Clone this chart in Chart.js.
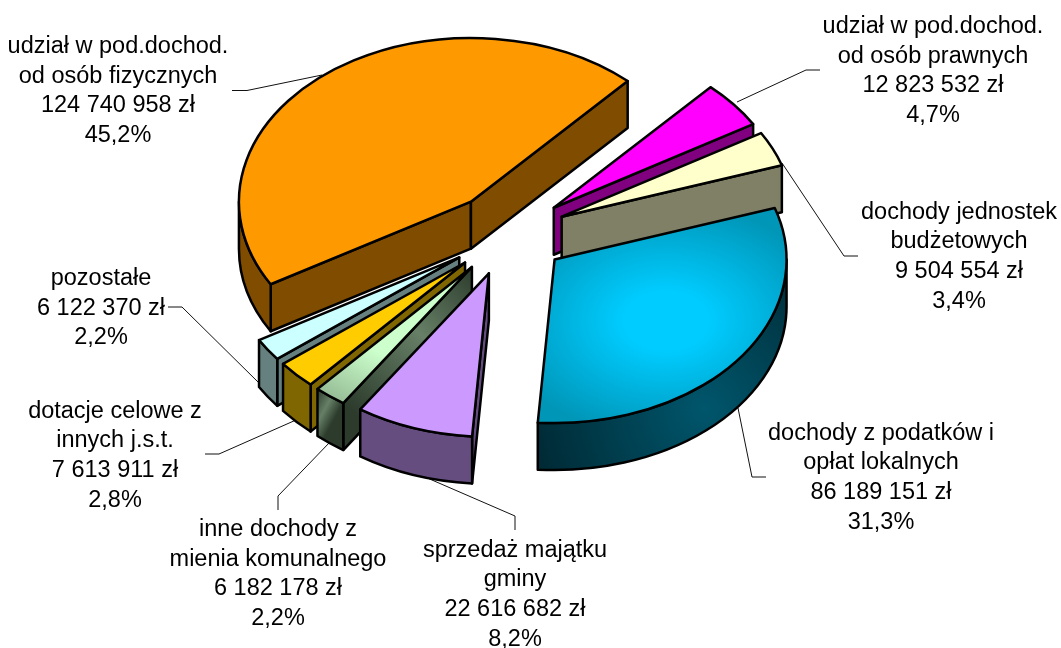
<!DOCTYPE html>
<html><head><meta charset="utf-8">
<style>html,body{margin:0;padding:0;background:#fff}canvas{display:block}</style>
<script src="https://cdn.jsdelivr.net/npm/chart.js@4"></script>
</head><body>
<canvas id="c" width="1061" height="648"></canvas>
<script>
const categories = [
  ['udział w pod.dochod.','od osób prawnych'],
  ['dochody jednostek','budżetowych'],
  ['dochody z podatków i','opłat lokalnych'],
  ['sprzedaż majątku','gminy'],
  ['inne dochody z','mienia komunalnego'],
  ['dotacje celowe z','innych j.s.t.'],
  ['pozostałe'],
  ['udział w pod.dochod.','od osób fizycznych']
];
const values = [12823532, 9504554, 86189151, 22616682, 6182178, 7613911, 6122370, 124740958];
const percents = ['4,7%','3,4%','31,3%','8,2%','2,2%','2,8%','2,2%','45,2%'];
const topColors = ['#FF00FF','#FFFFCC','#00CCFF','#CC99FF','#CCFFCC','#FFCC00','#CCFFFF','#FF9900'];
const sideColors = ['#800080','#808066','#00566C','#664D80','#667F66','#806600','#668080','#804D00'];
// label layout: centre x, first baseline y
const labelPos = [[933,33],[959,218.5],[881,439.5],[515,556.5],[278,536],[115,417.5],[101,285],[118,53]];
const leaders = [
  [[737,102],[806,70],[820,70]],
  [[782,163],[844,256],[858,256]],
  [[738,408],[752,477],[766,477]],
  [[425,477],[515,516],[515,530]],
  [[330,442],[278,496],[278,510]],
  [[296,420],[219,454],[205,454]],
  [[259,383],[182,307],[168,307]],
  [[322,75],[247,90.5],[232,90.5]]
];
const ROTATION = 42.5, R = 232, EXPLODE = 59, SQUASH = 0.705, DEPTH = 47;
const fmt = v => String(v).replace(/\B(?=(\d{3})+$)/g,' ') + ' zł';

function topFill(c){
  const i = c.dataIndex, area = c.chart.chartArea;
  if (i === undefined || !area || (i !== 2 && i !== 4)) return topColors[i] || '#000';
  const total = values.reduce((s,v)=>s+v,0);
  let acc = 0; for (let k=0;k<i;k++) acc += values[k];
  const mid = (ROTATION-90)*Math.PI/180 + (acc+values[i]/2)/total*2*Math.PI;
  const cx=(area.left+area.right)/2, cy=(area.top+area.bottom)/2;
  const d = EXPLODE + R*(i===2?0.61:0.42);
  const gx=cx+Math.cos(mid)*d, gy=cy+Math.sin(mid)*d;
  const g=c.chart.ctx.createRadialGradient(gx,gy,0,gx,gy,R*(i===2?0.72:0.6));
  g.addColorStop(0,topColors[i]);
  g.addColorStop(i===2?0.25:0.4,topColors[i]);
  g.addColorStop(1,i===2?'#0096B8':'#94BA94');
  return g;
}

const pie3d = {
  id:'pie3d',
  afterDatasetsUpdate(chart){
    const area=chart.chartArea, cx=(area.left+area.right)/2, cy=(area.top+area.bottom)/2;
    chart.getDatasetMeta(0).data.forEach(a=>{
      const mid=(a.startAngle+a.endAngle)/2;
      a.x=cx+Math.cos(mid)*EXPLODE; a.y=cy+Math.sin(mid)*EXPLODE;
    });
  },
  beforeDatasetsDraw(chart){
    const ctx=chart.ctx, area=chart.chartArea, cy=(area.top+area.bottom)/2;
    const sy=y=>cy+(y-cy)*SQUASH;
    const arcs=chart.getDatasetMeta(0).data;
    const P=(a,t)=>[a.x+a.outerRadius*Math.cos(t), sy(a.y+a.outerRadius*Math.sin(t))];
    // leader lines
    ctx.save(); ctx.strokeStyle='#111'; ctx.lineWidth=1;
    leaders.forEach(l=>{ctx.beginPath();l.forEach((p,k)=>k?ctx.lineTo(p[0],p[1]):ctx.moveTo(p[0],p[1]));ctx.stroke();});
    ctx.restore();
    const order=arcs.map((a,i)=>i).sort((m,n)=>
      Math.sin((arcs[m].startAngle+arcs[m].endAngle)/2)-Math.sin((arcs[n].startAngle+arcs[n].endAngle)/2));
    ctx.save(); ctx.lineWidth=2.5; ctx.strokeStyle='#000'; ctx.lineJoin='round';
    const dark=i=>i===2?'#002630':'#2C3B2C';
    const fillFor=(i,p,q)=>{
      if(i!==4) return sideColors[i];
      const g=ctx.createLinearGradient(p[0],p[1],q[0],q[1]);
      g.addColorStop(0,dark(i)); g.addColorStop(0.45,sideColors[i]); g.addColorStop(1,dark(i));
      return g;
    };
    const edge=(i,a,t)=>{
      const ap=[a.x,sy(a.y)], e=P(a,t);
      ctx.beginPath(); ctx.moveTo(ap[0],ap[1]); ctx.lineTo(e[0],e[1]);
      ctx.lineTo(e[0],e[1]+DEPTH); ctx.lineTo(ap[0],ap[1]+DEPTH); ctx.closePath();
      ctx.fillStyle=fillFor(i,ap,e); ctx.fill(); ctx.stroke();
    };
    order.forEach(i=>{
      const a=arcs[i], s=a.startAngle, e=a.endAngle, deg=Math.PI/180;
      const startTheta=((s/deg+90)%360+360)%360, endTheta=((e/deg+90)%360+360)%360;
      if(startTheta>180) edge(i,a,s);
      if(endTheta<180) edge(i,a,e);
      const a0=Math.max(s,0), a1=Math.min(e,Math.PI);
      if(a1>a0){
        const r=a.outerRadius, y=sy(a.y);
        ctx.beginPath();
        ctx.ellipse(a.x,y,r,r*SQUASH,0,a0,a1);
        ctx.ellipse(a.x,y+DEPTH,r,r*SQUASH,0,a1,a0,true);
        ctx.closePath();
        if(i===2){
          const g=ctx.createRadialGradient(a.x+150,y+149,0,a.x+150,y+149,190);
          g.addColorStop(0,sideColors[2]); g.addColorStop(1,dark(2)); ctx.fillStyle=g;
        } else ctx.fillStyle=fillFor(i,P(a,a0),P(a,a1));
        ctx.fill(); ctx.stroke();
      }
    });
    ctx.restore();
    // squash the flat pie into its tilted projection while the library draws it
    ctx.save();
    ctx.translate(0,cy); ctx.scale(1,SQUASH); ctx.translate(0,-cy);
  },
  afterDatasetsDraw(chart){
    const ctx=chart.ctx;
    const arcs=chart.getDatasetMeta(0).data;
    ctx.beginPath();
    arcs.forEach(a=>{
      ctx.moveTo(a.x,a.y);
      ctx.arc(a.x,a.y,a.outerRadius,a.startAngle,a.endAngle);
      ctx.closePath();
    });
    ctx.restore();
    ctx.save();
    ctx.lineWidth=2.5; ctx.strokeStyle='#000'; ctx.lineJoin='round'; ctx.stroke();
    ctx.fillStyle='#000'; ctx.font='23.5px "Liberation Sans", Arial, sans-serif';
    ctx.textAlign='center'; ctx.textBaseline='alphabetic';
    categories.forEach((lines,i)=>{
      const all=[...lines,fmt(values[i]),percents[i]];
      all.forEach((t,k)=>ctx.fillText(t,labelPos[i][0],labelPos[i][1]+k*29.7));
    });
    ctx.restore();
  }
};

new Chart(document.getElementById('c'),{
  type:'pie',
  data:{labels:categories.map(l=>l.join(' ')),
    datasets:[{data:values,backgroundColor:topFill,borderWidth:0,clip:false}]},
  options:{
    responsive:false,animation:false,events:[],rotation:ROTATION,radius:R,
    layout:{padding:{right:45,bottom:180}},
    plugins:{legend:{display:false},tooltip:{enabled:false}}
  },
  plugins:[pie3d]
});
</script>
</body></html>
